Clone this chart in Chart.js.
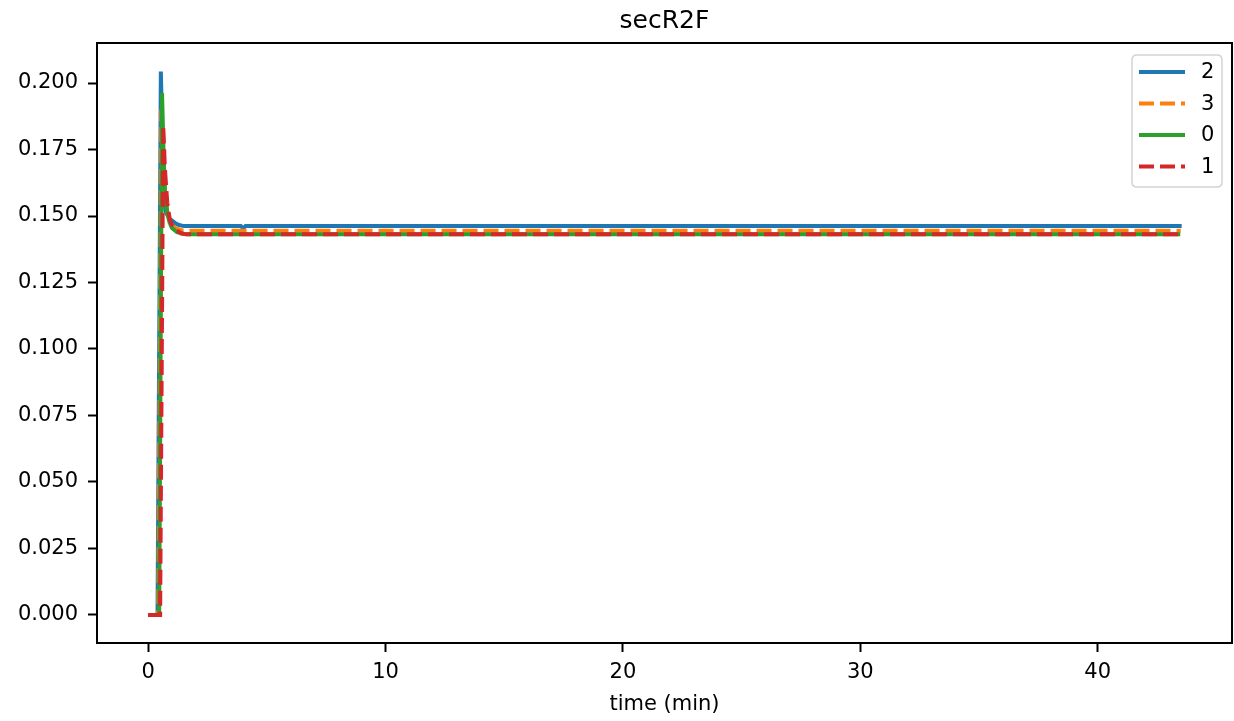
<!DOCTYPE html>
<html>
<head>
<meta charset="utf-8">
<script src="https://cdn.jsdelivr.net/npm/chart.js@4/dist/chart.umd.min.js"></script>
<style>
  html, body { margin: 0; padding: 0; background: #fff; }
  #wrap { width: 1234px; height: 721px; }
</style>
</head>
<body>
<div id="wrap"><canvas id="c" width="1234" height="721"></canvas></div>
<script>
// ---- data ----
const chartTitle = 'secR2F';
const xLabel = 'time (min)';
const seriesNames = ['2', '3', '0', '1'];

const t2 = [0, 0.39, 0.53, 0.60, 0.65, 0.72, 0.80, 0.93, 1.14, 1.30, 1.50, 3.90, 4.00, 4.10, 43.54];
const y2 = [0, 0, 0.2043, 0.178, 0.163, 0.152, 0.1505, 0.1487, 0.1473, 0.1466, 0.1462, 0.1462, 0.1453, 0.1462, 0.1462];

const t3 = [0, 0.42, 0.55, 0.62, 0.70, 0.80, 0.90, 1.00, 1.20, 1.40, 1.60, 43.50];
const y3 = [0, 0, 0.190, 0.172, 0.160, 0.152, 0.1485, 0.1465, 0.1452, 0.1446, 0.1445, 0.1445];

const t0 = [0, 0.46, 0.58, 0.65, 0.70, 0.80, 0.90, 1.00, 1.20, 1.40, 1.60, 43.48];
const y0 = [0, 0, 0.1962, 0.172, 0.160, 0.151, 0.1475, 0.1455, 0.1440, 0.1434, 0.1431, 0.1431];

const t1 = [0, 0.50, 0.63, 0.70, 0.80, 0.90, 1.00, 1.20, 1.40, 1.60, 43.48];
const y1 = [0, 0, 0.184, 0.168, 0.155, 0.149, 0.1465, 0.1445, 0.1435, 0.1431, 0.1431];

const xTicks = [0, 10, 20, 30, 40];
const yTicks = [0, 0.025, 0.05, 0.075, 0.1, 0.125, 0.15, 0.175, 0.2];

// ---- styling ----
const FONT = 'DejaVu Sans';
const TICK_SIZE = 21;
const colors = { '2': '#1f77b4', '3': '#ff7f0e', '0': '#2ca02c', '1': '#d62728' };
const dashes = { '2': [], '3': [15, 6], '0': [], '1': [15, 6] };
const LW = 4;

function pts(t, y) { return t.map((v, i) => ({ x: v, y: y[i] })); }
const seriesData = { '2': pts(t2, y2), '3': pts(t3, y3), '0': pts(t0, y0), '1': pts(t1, y1) };

const datasets = seriesNames.map((name, i) => ({
  label: name,
  data: seriesData[name],
  borderColor: colors[name],
  backgroundColor: colors[name],
  borderWidth: LW,
  borderDash: dashes[name],
  pointRadius: 0,
  tension: 0,
  fill: false,
  order: seriesNames.length - 1 - i
}));

const framePlugin = {
  id: 'frame',
  afterDatasetsDraw(chart) {
    const { ctx, chartArea: a } = chart;
    ctx.save();
    ctx.strokeStyle = '#000';
    ctx.lineWidth = 2;
    ctx.strokeRect(a.left, a.top, a.right - a.left, a.bottom - a.top);
    ctx.restore();
  }
};

const titlePlugin = {
  id: 'mplTitle',
  afterDraw(chart) {
    const { ctx, chartArea: a } = chart;
    ctx.save();
    ctx.fillStyle = '#000';
    ctx.font = '25px "' + FONT + '"';
    ctx.textAlign = 'center';
    ctx.textBaseline = 'alphabetic';
    ctx.fillText(chartTitle, (a.left + a.right) / 2, 28);
    ctx.restore();
  }
};

const legendPlugin = {
  id: 'mplLegend',
  afterDraw(chart) {
    const { ctx } = chart;
    const bx = 1132, by = 55, bw = 90, bh = 132, r = 5;
    ctx.save();
    ctx.beginPath();
    ctx.moveTo(bx + r, by);
    ctx.lineTo(bx + bw - r, by);
    ctx.quadraticCurveTo(bx + bw, by, bx + bw, by + r);
    ctx.lineTo(bx + bw, by + bh - r);
    ctx.quadraticCurveTo(bx + bw, by + bh, bx + bw - r, by + bh);
    ctx.lineTo(bx + r, by + bh);
    ctx.quadraticCurveTo(bx, by + bh, bx, by + bh - r);
    ctx.lineTo(bx, by + r);
    ctx.quadraticCurveTo(bx, by, bx + r, by);
    ctx.closePath();
    ctx.fillStyle = 'rgba(255,255,255,0.8)';
    ctx.fill();
    ctx.strokeStyle = '#d3d3d3';
    ctx.lineWidth = 1.5;
    ctx.stroke();
    const rows = [72, 103.5, 135, 166.5];
    chart.data.datasets.forEach((ds, i) => {
      const y = rows[i];
      ctx.beginPath();
      ctx.setLineDash(ds.borderDash || []);
      ctx.strokeStyle = ds.borderColor;
      ctx.lineWidth = LW;
      ctx.moveTo(1139, y);
      ctx.lineTo(1185, y);
      ctx.stroke();
      ctx.setLineDash([]);
      ctx.fillStyle = '#000';
      ctx.font = TICK_SIZE + 'px "' + FONT + '"';
      ctx.textAlign = 'left';
      ctx.textBaseline = 'middle';
      ctx.fillText(ds.label, 1201, y + 1);
    });
    ctx.restore();
  }
};

new Chart(document.getElementById('c'), {
  type: 'line',
  data: { datasets },
  options: {
    responsive: false,
    animation: false,
    devicePixelRatio: 1,
    layout: { padding: { left: 0, right: 2, top: 43, bottom: 0 } },
    plugins: {
      legend: { display: false },
      tooltip: { enabled: false },
      title: { display: false }
    },
    scales: {
      x: {
        type: 'linear',
        min: -2.16,
        max: 45.66,
        afterBuildTicks: s => { s.ticks = xTicks.map(v => ({ value: v })); },
        afterFit: s => { s.height = 78; },
        ticks: {
          color: '#000',
          font: { family: FONT, size: TICK_SIZE },
          padding: 8,
          maxRotation: 0,
          autoSkip: false,
          callback: v => String(v)
        },
        grid: { display: true, drawOnChartArea: false, drawTicks: true, tickLength: 9, tickWidth: 2, tickColor: '#000', color: '#000' },
        border: { display: false },
        title: {
          display: true,
          text: xLabel,
          color: '#000',
          font: { family: FONT, size: TICK_SIZE },
          padding: { top: 4, bottom: 4 }
        }
      },
      y: {
        type: 'linear',
        min: -0.01053,
        max: 0.21504,
        afterBuildTicks: s => { s.ticks = yTicks.map(v => ({ value: v })); },
        afterFit: s => { s.width = 97; },
        ticks: {
          color: '#000',
          font: { family: FONT, size: TICK_SIZE },
          padding: 10,
          autoSkip: false,
          callback: v => Number(v).toFixed(3)
        },
        grid: { display: true, drawOnChartArea: false, drawTicks: true, tickLength: 9, tickWidth: 2, tickColor: '#000', color: '#000' },
        border: { display: false }
      }
    }
  },
  plugins: [framePlugin, titlePlugin, legendPlugin]
});
</script>
</body>
</html>
